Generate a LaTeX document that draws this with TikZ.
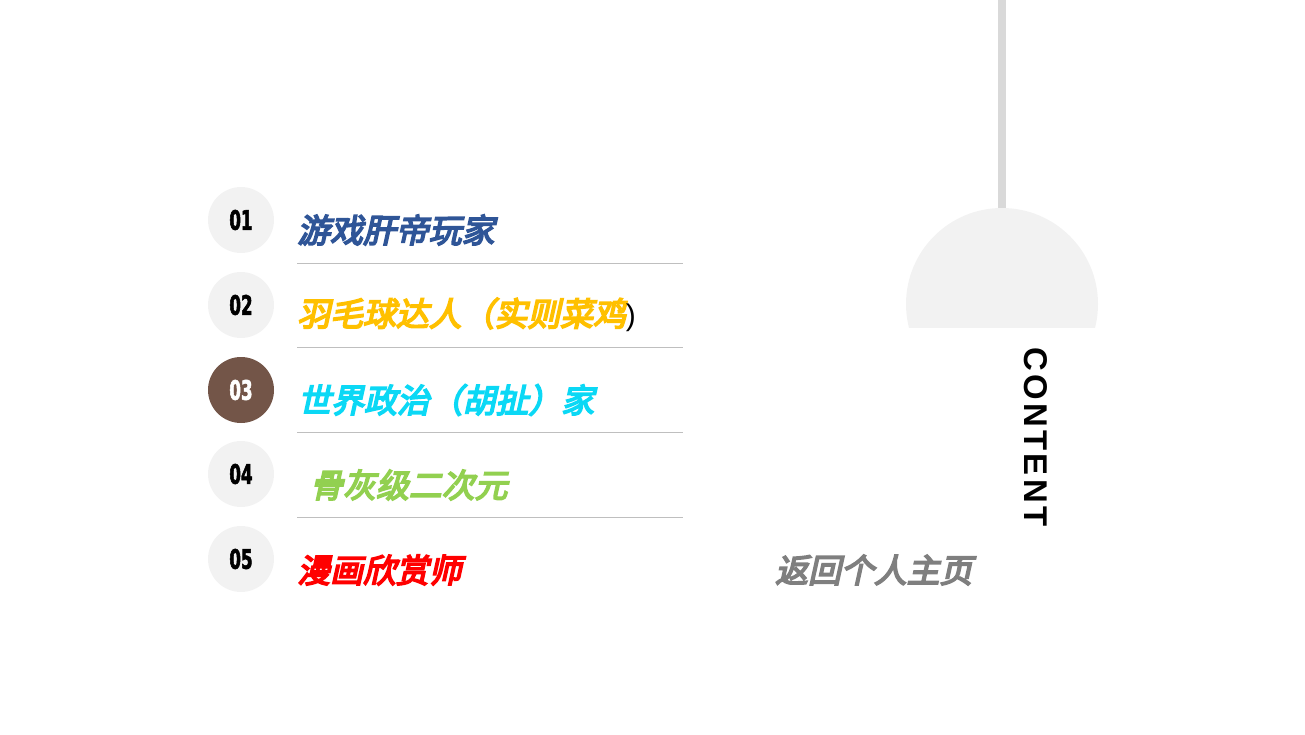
\documentclass[tikz,border=0pt]{standalone}
\usepackage{fontspec}
\newfontfamily\cjk{Noto Sans CJK SC}[FakeSlant=0.22,FakeBold=5]
\newfontfamily\numfont{DejaVu Sans}[FakeStretch=0.62,FakeBold=2]
\newfontfamily\capfont{Liberation Sans}[LetterSpace=10]
\newfontfamily\parenfont{Liberation Sans}
\definecolor{itemblue}{HTML}{2F5597}
\definecolor{itemyellow}{HTML}{FFC000}
\definecolor{itemcyan}{HTML}{0BD8F5}
\definecolor{itemgreen}{HTML}{92D050}
\definecolor{itemred}{HTML}{FF0000}
\definecolor{dotgray}{HTML}{F2F2F2}
\definecolor{dotbrown}{HTML}{735548}
\definecolor{rulegray}{HTML}{BFBFBF}
\definecolor{cordgray}{HTML}{D9D9D9}
\definecolor{backgray}{HTML}{7F7F7F}
\begin{document}
\begin{tikzpicture}[x=1bp, y=-1bp,
                every node/.style = {inner sep=0pt},
                dot/.style = {circle, fill=dotgray, minimum size=66bp},
                num/.style = {font=\numfont\bfseries\fontsize{27}{27}\selectfont},
                item/.style = {anchor=west, font=\cjk\fontsize{33}{36}\selectfont},
                sep/.style = {draw=rulegray, line width=0.8bp}
            ]
            \useasboundingbox (0,0) rectangle (1305,734);
            % lamp
            \fill[cordgray] (998,0) rectangle (1006,212);
            \begin{scope}
                \clip (900,200) rectangle (1105,327);
                \fill[dotgray] (1002,304) circle (96);
            \end{scope}
            \node[rotate=-90, font=\capfont\bfseries\fontsize{33}{33}\selectfont] (content) at (1036,437) {CONTENT};
            % numbers
            \node[dot] (d1) at (241,220) {};
            \node[dot] (d2) at (241,305) {};
            \node[dot, fill=dotbrown] (d3) at (241,390) {};
            \node[dot] (d4) at (241,474) {};
            \node[dot] (d5) at (241,559) {};
            \node[num] at (d1) {01};
            \node[num] at (d2) {02};
            \node[num, text=white] at (d3) {03};
            \node[num] at (d4) {04};
            \node[num] at (d5) {05};
            % items
            \node[item, text=itemblue] (i1) at (297,230) {游戏肝帝玩家};
            \node[item, text=itemyellow] (i2) at (297,315) {羽毛球达人（实则菜鸡\textcolor{black}{\parenfont\fontsize{30}{30}\selectfont)}};
            \node[item, text=itemcyan] (i3) at (298,400) {世界政治（胡扯）家};
            \node[item, text=itemgreen] (i4) at (310,485) {骨灰级二次元};
            \node[item, text=itemred] (i5) at (297,570) {漫画欣赏师};
            \node[item, text=backgray] (back) at (775,570) {返回个人主页};
            % rules
            \coordinate (r1a) at (297,263); \coordinate (r1b) at (683,263);
            \coordinate (r2a) at (297,347); \coordinate (r2b) at (683,347);
            \coordinate (r3a) at (297,432); \coordinate (r3b) at (683,432);
            \coordinate (r4a) at (297,517); \coordinate (r4b) at (683,517);
            \draw[sep] (r1a) -- (r1b);
            \draw[sep] (r2a) -- (r2b);
            \draw[sep] (r3a) -- (r3b);
            \draw[sep] (r4a) -- (r4b);
        \end{tikzpicture}
\end{document}
